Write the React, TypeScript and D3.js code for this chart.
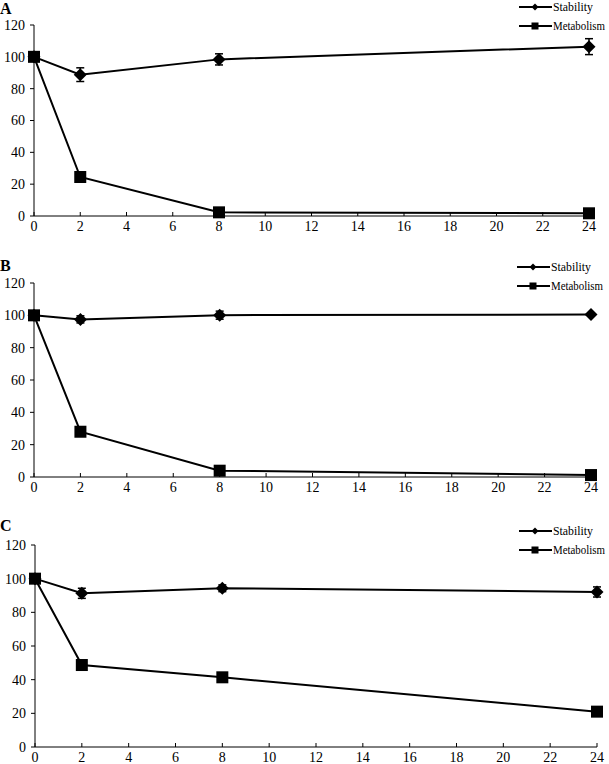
import React from "react";
import * as d3 from "d3";

const times = [0, 2, 8, 24];
const xTicks = [0, 2, 4, 6, 8, 10, 12, 14, 16, 18, 20, 22, 24];
const yTicks = [0, 20, 40, 60, 80, 100, 120];
const seriesNames = ["Stability", "Metabolism"];
const panelLabels = ["A", "B", "C"];

const stabilityA = [100, 88.8, 98.4, 106.4];
const stabilityErrA = [0, 4.3, 3.5, 5];
const metabolismA = [100, 24.5, 2.3, 1.7];

const stabilityB = [100, 97.5, 100.1, 100.5];
const stabilityErrB = [0, 2.2, 2.5, 0];
const metabolismB = [100, 28, 3.9, 1.2];

const stabilityC = [100, 91.3, 94.3, 92.1];
const stabilityErrC = [0, 3, 2, 3];
const metabolismC = [100, 48.7, 41.4, 21];

const panels = [
  { label: panelLabels[0], stab: stabilityA, err: stabilityErrA, metab: metabolismA,
    layout: { left: 34, right: 589, top: 25, bottom: 216, labelY: 14, legX: 519, legY: 7 } },
  { label: panelLabels[1], stab: stabilityB, err: stabilityErrB, metab: metabolismB,
    layout: { left: 34, right: 591, top: 283, bottom: 477, labelY: 271, legX: 517, legY: 267 } },
  { label: panelLabels[2], stab: stabilityC, err: stabilityErrC, metab: metabolismC,
    layout: { left: 35, right: 597, top: 545, bottom: 747, labelY: 531, legX: 519, legY: 531 } },
];

const legendWidths = [40, 52];

const FONT = "Liberation Serif, Times New Roman, serif";

function Diamond({ cx, cy, r }: { cx: number; cy: number; r: number }) {
  return <path d={`M${cx},${cy - r}L${cx + r},${cy}L${cx},${cy + r}L${cx - r},${cy}Z`} fill="#000" />;
}

function Panel({ p }: { p: (typeof panels)[number] }) {
  const L = p.layout;
  const x = d3.scaleLinear().domain([0, 24]).range([L.left, L.right]);
  const y = d3.scaleLinear().domain([0, 120]).range([L.bottom, L.top]);
  const line = d3
    .line<number>()
    .x((_, i) => x(times[i]))
    .y((v) => y(v));
  return (
    <g>
      <text x={0} y={L.labelY} fontWeight="bold" fontSize={16}>
        {p.label}
      </text>
      <line x1={L.left} x2={L.left} y1={L.top} y2={L.bottom} stroke="#000" strokeWidth={1} />
      <line x1={L.left} x2={L.right} y1={L.bottom} y2={L.bottom} stroke="#000" strokeWidth={1} />
      {yTicks.map((t) => (
        <g key={"y" + t}>
          <line x1={L.left - 4} x2={L.left} y1={y(t)} y2={y(t)} stroke="#000" />
          <text x={L.left - 9} y={y(t)} dy="0.35em" textAnchor="end" fontSize={14}>
            {t}
          </text>
        </g>
      ))}
      {xTicks.map((t) => (
        <g key={"x" + t}>
          <line x1={x(t)} x2={x(t)} y1={L.bottom} y2={L.bottom - 4} stroke="#000" />
          <text x={x(t)} y={L.bottom + 15} textAnchor="middle" fontSize={14}>
            {t}
          </text>
        </g>
      ))}
      <path d={line(p.metab) || ""} fill="none" stroke="#000" strokeWidth={2} />
      <path d={line(p.stab) || ""} fill="none" stroke="#000" strokeWidth={2} />
      {p.stab.map((v, i) =>
        p.err[i] > 0 ? (
          <g key={"e" + i} stroke="#000" strokeWidth={1.5}>
            <line x1={x(times[i])} x2={x(times[i])} y1={y(v - p.err[i])} y2={y(v + p.err[i])} />
            <line x1={x(times[i]) - 4} x2={x(times[i]) + 4} y1={y(v - p.err[i])} y2={y(v - p.err[i])} />
            <line x1={x(times[i]) - 4} x2={x(times[i]) + 4} y1={y(v + p.err[i])} y2={y(v + p.err[i])} />
          </g>
        ) : null
      )}
      {p.stab.map((v, i) => (
        <Diamond key={"d" + i} cx={x(times[i])} cy={y(v)} r={6.5} />
      ))}
      {p.metab.map((v, i) => (
        <rect key={"s" + i} x={x(times[i]) - 6} y={y(v) - 6} width={12} height={12} fill="#000" />
      ))}
      {seriesNames.map((name, k) => {
        const ly = L.legY + k * 19;
        const mx = L.legX + 16;
        return (
          <g key={name}>
            <line x1={L.legX} x2={L.legX + 33} y1={ly} y2={ly} stroke="#000" strokeWidth={2} />
            {k === 0 ? (
              <Diamond cx={mx} cy={ly} r={3.5} />
            ) : (
              <rect x={mx - 3.5} y={ly - 3.5} width={7} height={7} fill="#000" />
            )}
            <text
              x={L.legX + 34}
              y={ly}
              dy="0.33em"
              fontSize={11.5}
              textLength={legendWidths[k]}
              lengthAdjust="spacingAndGlyphs"
            >
              {name}
            </text>
          </g>
        );
      })}
    </g>
  );
}

export default function App() {
  return (
    <svg
      width={609}
      height={764}
      fontFamily={FONT}
      style={{ position: "absolute", left: 0, top: 0, background: "#fff", fontFamily: FONT }}
    >
      <rect width={609} height={764} fill="#fff" />
      {panels.map((p) => (
        <Panel key={p.label} p={p} />
      ))}
    </svg>
  );
}
